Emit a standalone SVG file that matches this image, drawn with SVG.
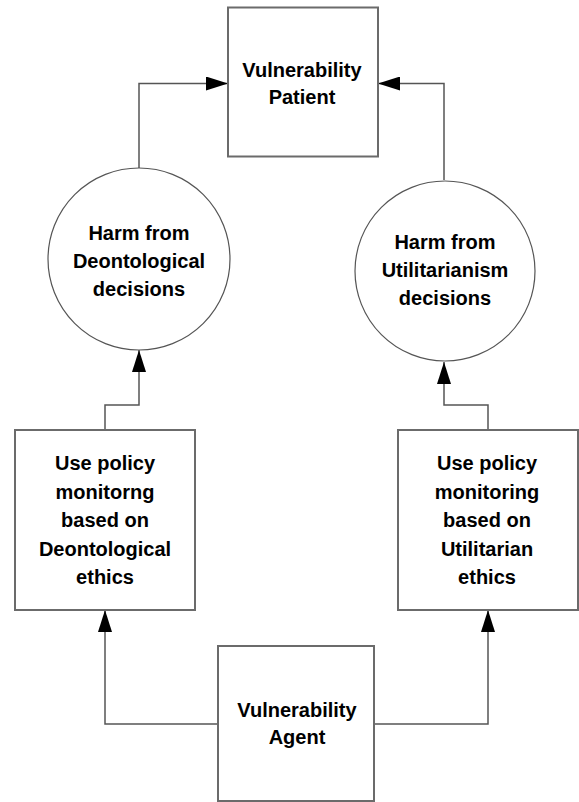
<svg xmlns="http://www.w3.org/2000/svg" width="579" height="802" viewBox="0 0 579 802">
  <style>
    .box { fill: #ffffff; stroke: #6b6b6b; stroke-width: 2; }
    .circ { fill: #ffffff; stroke: #555555; stroke-width: 1.2; }
    .lbl { font-family: "Liberation Sans", Arial, sans-serif; font-weight: bold; font-size: 20px; fill: #000000; text-anchor: middle; }
    .wire { fill: none; stroke: #555555; stroke-width: 1.5; }
  </style>
  <defs>
    <marker id="tri" viewBox="0 0 22 14" refX="22" refY="7" markerWidth="22" markerHeight="14" markerUnits="userSpaceOnUse" orient="auto">
      <path d="M0,0 L22,7 L0,14 Z" fill="#000000"/>
    </marker>
  </defs>

  <rect width="579" height="802" fill="#ffffff"/>

  <!-- connectors -->
  <g id="connectors">
    <path class="wire" d="M139,168 L139,83.5 L228,83.5" marker-end="url(#tri)"/>
    <path class="wire" d="M444,180 L444,83.5 L378,83.5" marker-end="url(#tri)"/>
    <path class="wire" d="M105,430 L105,405 L139,405 L139,350" marker-end="url(#tri)"/>
    <path class="wire" d="M488,430 L488,405 L444,405 L444,362" marker-end="url(#tri)"/>
    <path class="wire" d="M218,724 L105,724 L105,610" marker-end="url(#tri)"/>
    <path class="wire" d="M374,724 L488,724 L488,610" marker-end="url(#tri)"/>
  </g>

  <!-- nodes -->
  <g id="patient">
    <rect class="box" x="228" y="7.5" width="150" height="149"/>
    <text class="lbl" x="302" y="77">Vulnerability</text>
    <text class="lbl" x="302" y="104">Patient</text>
  </g>

  <g id="harm-deontological">
    <circle class="circ" cx="139" cy="259" r="91"/>
    <text class="lbl" x="139" y="240">Harm from</text>
    <text class="lbl" x="139" y="268">Deontological</text>
    <text class="lbl" x="139" y="296">decisions</text>
  </g>

  <g id="harm-utilitarian">
    <circle class="circ" cx="445" cy="271" r="90"/>
    <text class="lbl" x="445" y="249">Harm from</text>
    <text class="lbl" x="445" y="277">Utilitarianism</text>
    <text class="lbl" x="445" y="305">decisions</text>
  </g>

  <g id="policy-deontological">
    <rect class="box" x="15" y="430" width="180" height="180"/>
    <text class="lbl" x="105" y="470">Use policy</text>
    <text class="lbl" x="105" y="498.5">monitorng</text>
    <text class="lbl" x="105" y="527">based on</text>
    <text class="lbl" x="105" y="555.5">Deontological</text>
    <text class="lbl" x="105" y="584">ethics</text>
  </g>

  <g id="policy-utilitarian">
    <rect class="box" x="398" y="430" width="180" height="180"/>
    <text class="lbl" x="487" y="470">Use policy</text>
    <text class="lbl" x="487" y="498.5">monitoring</text>
    <text class="lbl" x="487" y="527">based on</text>
    <text class="lbl" x="487" y="555.5">Utilitarian</text>
    <text class="lbl" x="487" y="584">ethics</text>
  </g>

  <g id="agent">
    <rect class="box" x="218" y="646" width="156" height="155"/>
    <text class="lbl" x="297" y="717">Vulnerability</text>
    <text class="lbl" x="297" y="744">Agent</text>
  </g>
</svg>
